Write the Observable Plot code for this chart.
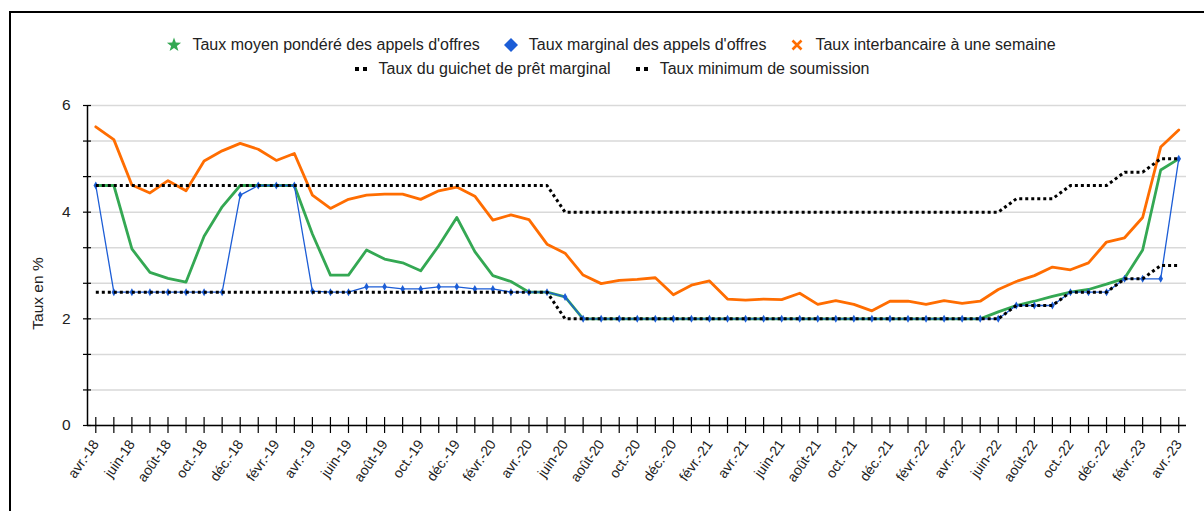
<!DOCTYPE html>
<html>
<head>
<meta charset="utf-8">
<script src="https://cdn.jsdelivr.net/npm/d3@7"></script>
<script src="https://cdn.jsdelivr.net/npm/@observablehq/plot@0.6"></script>
<style>
  body { margin: 0; background: #fff; font-family: "Liberation Sans", Arial, sans-serif; }
  #wrap { position: relative; width: 1204px; height: 511px; overflow: hidden; }
  #border { position: absolute; left: 9px; top: 11px; width: 1300px; height: 700px; border: 2px solid #000; box-sizing: border-box; }
  #chart { position: absolute; left: 0; top: 0; }
  .legend-row { position: absolute; left: 0; width: 1222px; display: flex; justify-content: center; align-items: center; font-size: 16px; color: #222; white-space: nowrap; }
  .item { display: flex; align-items: center; margin: 0 11.5px; }
  .item svg { margin-right: 10px; }
</style>
</head>
<body>
<div id="wrap">
  <div id="border"></div>
  <div id="chart"></div>
  <div class="legend-row" style="top:36px;">
    <div class="item"><svg width="16" height="16" viewBox="-8 -8 16 16"><polygon fill="#34a853" points="0,-7.5 1.8,-2.4 7.1,-2.3 2.9,0.9 4.4,6.1 0,3 -4.4,6.1 -2.9,0.9 -7.1,-2.3 -1.8,-2.4"/></svg><span>Taux moyen pondéré des appels d'offres</span></div>
    <div class="item"><svg width="16" height="16" viewBox="-8 -8 16 16"><polygon fill="#1c5dd6" points="0,-7 7,0 0,7 -7,0"/></svg><span>Taux marginal des appels d'offres</span></div>
    <div class="item"><svg width="16" height="16" viewBox="-8 -8 16 16"><path d="M-4.5,-4.5L4.5,4.5M4.5,-4.5L-4.5,4.5" stroke="#ff6d01" stroke-width="2.6"/></svg><span>Taux interbancaire à une semaine</span></div>
  </div>
  <div class="legend-row" style="top:60px;">
    <div class="item"><svg width="16" height="8" viewBox="0 0 16 8"><rect x="2" y="2" width="4" height="4" fill="#000"/><rect x="10" y="2" width="4" height="4" fill="#000"/></svg><span>Taux du guichet de prêt marginal</span></div>
    <div class="item"><svg width="16" height="8" viewBox="0 0 16 8"><rect x="2" y="2" width="4" height="4" fill="#000"/><rect x="10" y="2" width="4" height="4" fill="#000"/></svg><span>Taux minimum de soumission</span></div>
  </div>
</div>
<script>
// Month abbreviations used to label the monthly axis (avril 2018 → avril 2023)
const monthAbbr = ["janv.", "févr.", "mars", "avr.", "mai", "juin", "juil.", "août", "sept.", "oct.", "nov.", "déc."];
const startMonth = 3;   // avril
const startYear = 18;
const monthCount = 61;
const months = d3.range(monthCount).map(i => {
  const m = (startMonth + i) % 12;
  const y = startYear + Math.floor((startMonth + i) / 12);
  return `${monthAbbr[m]}-${y}`;
});

// Taux moyen pondéré des appels d'offres (%)
const tauxMoyen = [
  4.50, 4.50, 3.31, 2.87, 2.76, 2.69, 3.55, 4.10, 4.50, 4.50, 4.50, 4.50,
  3.59, 2.82, 2.82, 3.29, 3.12, 3.05, 2.90, 3.37, 3.90, 3.26, 2.81, 2.70,
  2.50, 2.50, 2.41, 2.00, 2.00, 2.00, 2.00, 2.00, 2.00, 2.00, 2.00, 2.00,
  2.00, 2.00, 2.00, 2.00, 2.00, 2.00, 2.00, 2.00, 2.00, 2.00, 2.00, 2.00,
  2.00, 2.00, 2.13, 2.25, 2.33, 2.42, 2.50, 2.55, 2.65, 2.76, 3.29, 4.79,
  5.00
];

// Taux marginal des appels d'offres (%)
const tauxMarginal = [
  4.50, 2.50, 2.50, 2.50, 2.50, 2.50, 2.50, 2.50, 4.32, 4.50, 4.50, 4.50,
  2.52, 2.50, 2.50, 2.60, 2.60, 2.56, 2.56, 2.60, 2.60, 2.56, 2.56, 2.50,
  2.50, 2.50, 2.41, 2.00, 2.00, 2.00, 2.00, 2.00, 2.00, 2.00, 2.00, 2.00,
  2.00, 2.00, 2.00, 2.00, 2.00, 2.00, 2.00, 2.00, 2.00, 2.00, 2.00, 2.00,
  2.00, 2.00, 2.00, 2.25, 2.25, 2.25, 2.50, 2.50, 2.50, 2.75, 2.75, 2.75,
  5.00
];

// Taux interbancaire à une semaine (%)
const tauxInterbancaire = [
  5.60, 5.36, 4.51, 4.36, 4.59, 4.40, 4.96, 5.15, 5.29, 5.18, 4.97, 5.10,
  4.32, 4.07, 4.24, 4.32, 4.34, 4.34, 4.24, 4.40, 4.47, 4.30, 3.85, 3.95,
  3.86, 3.40, 3.23, 2.82, 2.66, 2.72, 2.74, 2.77, 2.45, 2.63, 2.71, 2.37,
  2.35, 2.37, 2.36, 2.48, 2.27, 2.34, 2.27, 2.15, 2.33, 2.33, 2.27, 2.34,
  2.29, 2.33, 2.55, 2.70, 2.81, 2.97, 2.92, 3.05, 3.44, 3.52, 3.90, 5.22,
  5.54
];

// Taux du guichet de prêt marginal (%)
const tauxGuichet = [
  4.50, 4.50, 4.50, 4.50, 4.50, 4.50, 4.50, 4.50, 4.50, 4.50, 4.50, 4.50,
  4.50, 4.50, 4.50, 4.50, 4.50, 4.50, 4.50, 4.50, 4.50, 4.50, 4.50, 4.50,
  4.50, 4.50, 4.00, 4.00, 4.00, 4.00, 4.00, 4.00, 4.00, 4.00, 4.00, 4.00,
  4.00, 4.00, 4.00, 4.00, 4.00, 4.00, 4.00, 4.00, 4.00, 4.00, 4.00, 4.00,
  4.00, 4.00, 4.00, 4.25, 4.25, 4.25, 4.50, 4.50, 4.50, 4.75, 4.75, 5.00,
  5.00
];

// Taux minimum de soumission (%)
const tauxMinimum = [
  2.50, 2.50, 2.50, 2.50, 2.50, 2.50, 2.50, 2.50, 2.50, 2.50, 2.50, 2.50,
  2.50, 2.50, 2.50, 2.50, 2.50, 2.50, 2.50, 2.50, 2.50, 2.50, 2.50, 2.50,
  2.50, 2.50, 2.00, 2.00, 2.00, 2.00, 2.00, 2.00, 2.00, 2.00, 2.00, 2.00,
  2.00, 2.00, 2.00, 2.00, 2.00, 2.00, 2.00, 2.00, 2.00, 2.00, 2.00, 2.00,
  2.00, 2.00, 2.00, 2.25, 2.25, 2.25, 2.50, 2.50, 2.50, 2.75, 2.75, 3.00,
  3.00
];

// Y axis: labelled ticks and grid lines every 2/3 point
const yLabels = [0, 2, 4, 6];
const yGrid = d3.range(10).map(k => k * 2 / 3);
const yTitle = "Taux en %";

const rows = months.map((m, i) => ({
  i, m,
  moyen: tauxMoyen[i],
  marginal: tauxMarginal[i],
  inter: tauxInterbancaire[i],
  guichet: tauxGuichet[i],
  minimum: tauxMinimum[i]
}));

const GREEN = "#34a853", BLUE = "#1c5dd6", ORANGE = "#ff6d01";
const xLo = -0.46, xHi = 60.43;

const chart = Plot.plot({
  width: 1204,
  height: 511,
  marginLeft: 87,
  marginRight: 18,
  marginTop: 105,
  marginBottom: 86,
  style: { fontFamily: "'Liberation Sans', Arial, sans-serif", fontSize: "15px", color: "#222", background: "transparent", overflow: "visible" },
  x: { type: "linear", domain: [xLo, xHi], label: null },
  y: { domain: [0, 6], label: null },
  marks: [
    Plot.gridY(yGrid, { stroke: "#d9d9d9", strokeOpacity: 1, strokeWidth: 1.5 }),
    // axis lines
    Plot.ruleX([xLo], { stroke: "#000", strokeWidth: 1.5 }),
    Plot.ruleY([0], { stroke: "#000", strokeWidth: 1.5 }),
    // tick marks crossing the axes
    Plot.axisY({ ticks: yGrid, tickSize: 8, dx: 4, text: null, stroke: "#000", strokeWidth: 1.2 }),
    Plot.axisY({ ticks: yLabels, tickSize: 0, tickPadding: 17, fontSize: 15.5, tickFormat: d => String(d) }),
    Plot.axisX({ ticks: d3.range(monthCount), tickSize: 16, dy: -8, text: null, stroke: "#000", strokeWidth: 1.2 }),
    Plot.axisX({ ticks: d3.range(0, monthCount, 2), tickSize: 0, tickPadding: 16, tickRotate: -55, fontSize: 14, tickFormat: i => months[i] }),
    Plot.text([yTitle], { x: xLo, y: 2.475, dx: -49, rotate: -90, fontSize: 15.5, fill: "#222" }),
    // series
    Plot.lineY(rows, { x: "i", y: "moyen", stroke: GREEN, strokeWidth: 2.8 }),
    Plot.lineY(rows, { x: "i", y: "marginal", stroke: BLUE, strokeWidth: 1.3 }),
    Plot.dot(rows, { x: "i", y: "marginal", symbol: "diamond", r: 2.4, fill: BLUE, stroke: "none" }),
    Plot.lineY(rows, { x: "i", y: "inter", stroke: ORANGE, strokeWidth: 2.8 }),
    Plot.lineY(rows, { x: "i", y: "guichet", stroke: "#000", strokeWidth: 3, strokeDasharray: "3,3", strokeLinecap: "butt" }),
    Plot.lineY(rows, { x: "i", y: "minimum", stroke: "#000", strokeWidth: 3, strokeDasharray: "3,3", strokeLinecap: "butt" })
  ]
});
document.getElementById("chart").append(chart);
</script>
</body>
</html>
